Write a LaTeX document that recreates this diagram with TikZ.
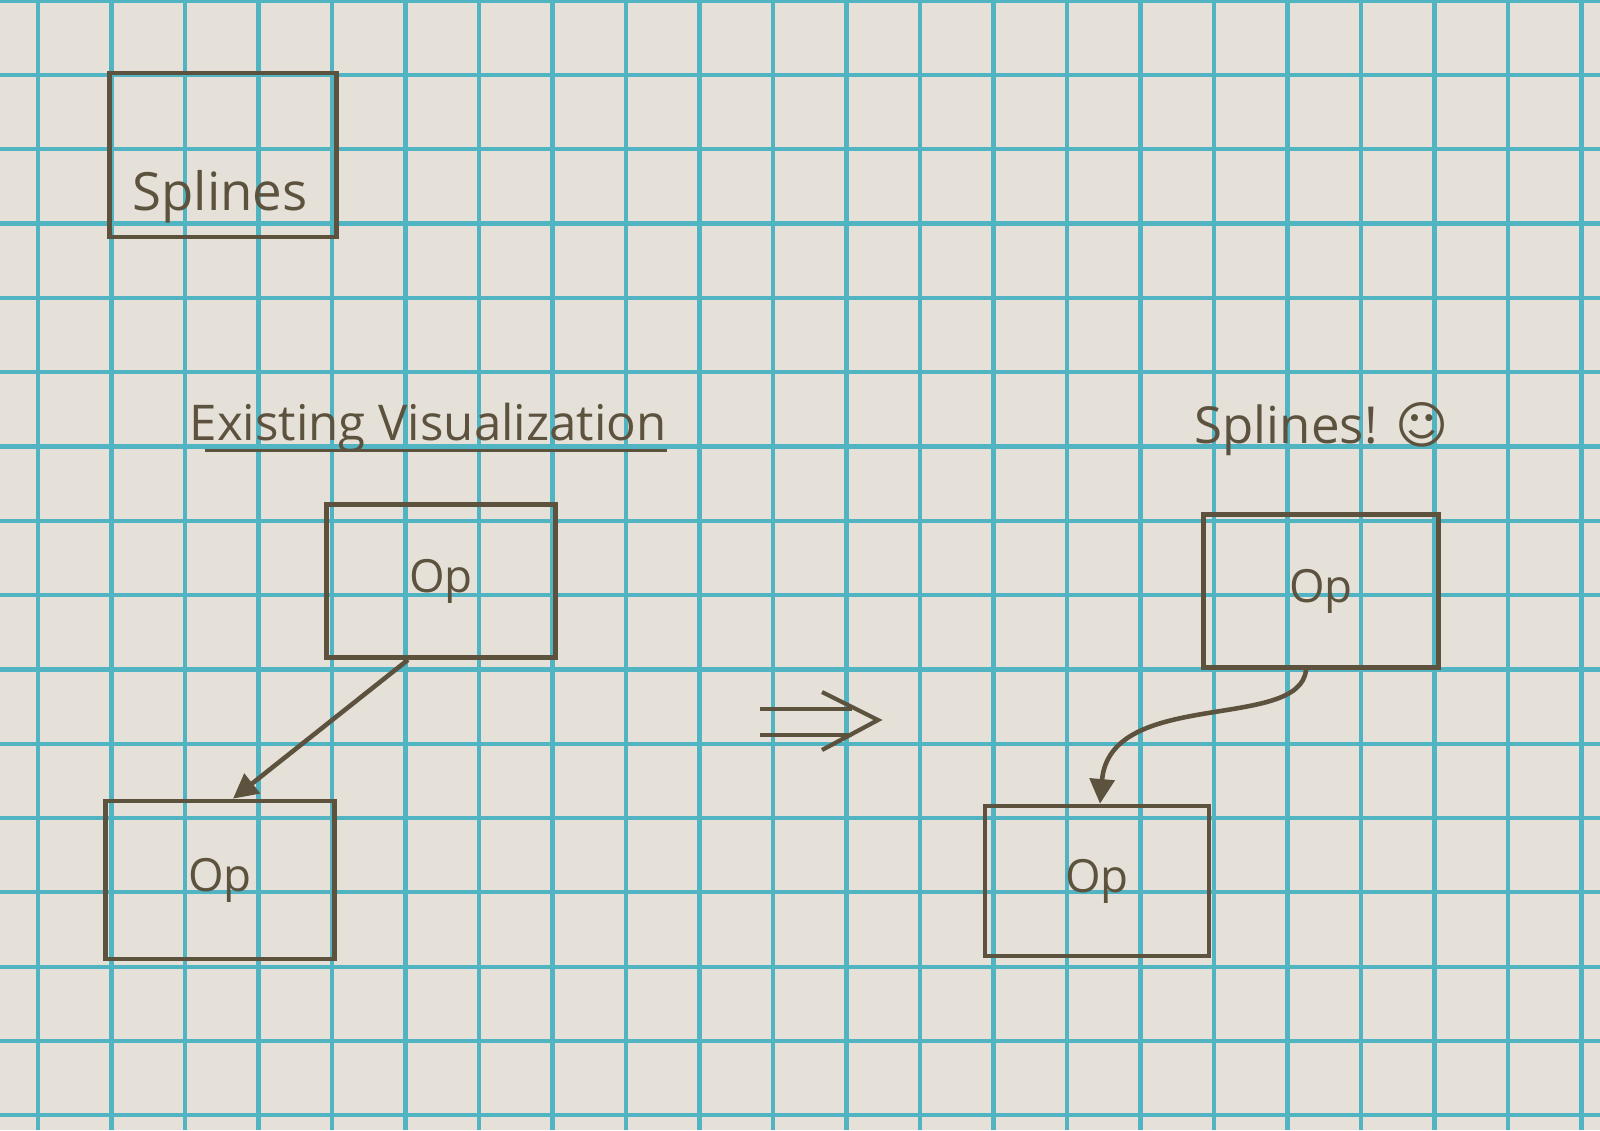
\documentclass[tikz,border=0pt]{standalone}
\usepackage{fontspec}
\setmainfont{Open Sans}
\newfontfamily\symfont{DejaVu Sans}
\usetikzlibrary{arrows.meta}

\definecolor{paper}{RGB}{229,225,217}
\definecolor{gridblue}{RGB}{80,180,194}
\definecolor{ink}{RGB}{92,82,62}

\tikzset{
  gridline/.style={gridblue, line width=1.2pt},
  opbox/.style={draw=ink, line width=1.3pt, minimum width=2.29cm, minimum height=1.53cm,
    text=ink, font=\fontsize{13}{15}\selectfont},
  inktext/.style={text=ink, inner sep=0pt},
  flow/.style={ink, line width=1.3pt, -{Triangle[length=7pt, width=7pt]}}
}

\begin{document}
\begin{tikzpicture}[x=0.01cm, y=-0.01cm]
    % Paper and grid
    \fill[paper] (0,0) rectangle (1600,1130);
    \useasboundingbox (0,0) rectangle (1600,1130);
    \foreach \gx in {0,...,21} \draw[gridline] ({38+73.5*\gx},0) -- ++(0,1130);
    \foreach \gy in {0,...,15} \draw[gridline] (0,{0.7+74.3*\gy}) -- ++(1600,0);

    % Title box
    \node[draw=ink, line width=1.3pt, minimum width=2.27cm, minimum height=1.64cm] (splines) at (223,155) {};
    \node[inktext, font=\fontsize{15}{18}\selectfont] (splineslabel) at (220,197) {Splines};

    % Headings
    \node[inktext, anchor=base west, font=\fontsize{14}{16}\selectfont] (existing) at (189,440) {Existing Visualization};
    \draw[ink, line width=1.1pt] ([xshift=0.16cm, yshift=-3pt]existing.base west) -- ([yshift=-3pt]existing.base east);
    \node[inktext, anchor=base west, font=\fontsize{14.5}{17}\selectfont] (splineshead) at (1194,443) {Splines! {\symfont ☺}};

    % Existing visualization
    \node[opbox] (opA) at (441,581) {Op};
    \node[opbox, minimum height=1.58cm] (opB) at (220,880) {Op};
    \draw[flow] ([xshift=-0.33cm]opA.south) -- ([xshift=0.13cm]opB.north);

    % Becomes
    \draw[ink, line width=1.2pt] (760,709) -- (852,709);
    \draw[ink, line width=1.2pt] (760,735) -- (852,735);
    \draw[ink, line width=1.2pt] (822,692) -- (878,720) -- (822,750);

    % Spline visualization
    \node[opbox, minimum width=2.35cm] (opC) at (1321,591) {Op};
    \node[opbox, minimum width=2.24cm, minimum height=1.5cm] (opD) at (1097,881) {Op};
    \draw[flow] ([xshift=-0.15cm]opC.south) .. controls +(-6,62) and +(10,-116) .. ([xshift=0.03cm]opD.north);
\end{tikzpicture}
\end{document}
